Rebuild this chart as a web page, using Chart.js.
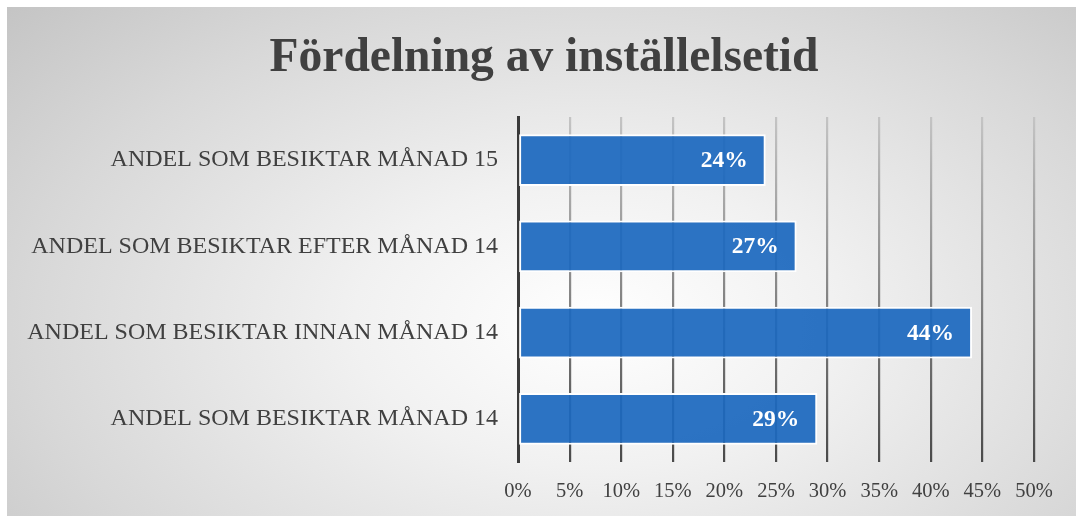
<!DOCTYPE html>
<html>
<head>
<meta charset="utf-8">
<script src="https://cdn.jsdelivr.net/npm/chart.js@4"></script>
<style>
  html, body { margin: 0; padding: 0; background: #fff; }
  #wrap {
    position: absolute; left: 7px; top: 7px; width: 1069px; height: 509px;
    background: radial-gradient(ellipse 75% 95% at 55% 62%, #ffffff 0%, #f1f1f1 30%, #d8d8d8 70%, #c3c3c3 100%);
  }
</style>
</head>
<body>
<div id="wrap"><canvas id="chart"></canvas></div>
<script>
// kategorier uppifrån och ned
var kategorier = [
  'ANDEL SOM BESIKTAR MÅNAD 15',
  'ANDEL SOM BESIKTAR EFTER MÅNAD 14',
  'ANDEL SOM BESIKTAR INNAN MÅNAD 14',
  'ANDEL SOM BESIKTAR MÅNAD 14'
];
var andelar = [24, 27, 44, 29];
var axelMax = 50;
var axelSteg = 5;
var rubrik = 'Fördelning av inställelsetid';

var serif = "'Liberation Serif', 'Times New Roman', serif";

// rubriken ritas själv så att den hamnar mitt i hela bilden
var rubrikPlugin = {
  id: 'rubrik',
  afterDraw: function (chart) {
    var ctx = chart.ctx;
    ctx.save();
    ctx.fillStyle = '#404040';
    ctx.font = 'bold 47.5px ' + serif;
    ctx.textAlign = 'center';
    ctx.textBaseline = 'middle';
    ctx.fillText(rubrik, 537, 52);
    ctx.restore();
  }
};

// skriver procentsatsen inne i stapelns ände
var etiketter = {
  id: 'etiketter',
  afterDatasetsDraw: function (chart) {
    var ctx = chart.ctx;
    var meta = chart.getDatasetMeta(0);
    ctx.save();
    ctx.fillStyle = '#ffffff';
    ctx.font = 'bold 23.5px ' + serif;
    ctx.textAlign = 'right';
    ctx.textBaseline = 'middle';
    meta.data.forEach(function (bar, i) {
      ctx.fillText(andelar[i] + '%', bar.x - 18, bar.y + 1);
    });
    ctx.restore();
  }
};

function gridFarg(context) {
  var chart = context.chart;
  var a = chart.chartArea;
  if (!a) return '#888';
  var g = chart.ctx.createLinearGradient(0, a.top, 0, a.bottom);
  g.addColorStop(0, '#c4c4c4');
  g.addColorStop(1, '#4a4a4a');
  return g;
}

var ctx = document.getElementById('chart').getContext('2d');
new Chart(ctx, {
  type: 'bar',
  data: {
    labels: kategorier,
    datasets: [{
      data: andelar,
      backgroundColor: 'rgba(28, 104, 190, 0.93)',
      borderColor: '#ffffff',
      borderWidth: 2,
      borderSkipped: false,
      barPercentage: 0.6,
      categoryPercentage: 1
    }]
  },
  options: {
    indexAxis: 'y',
    responsive: true,
    maintainAspectRatio: false,
    animation: false,
    layout: { padding: { left: 0, right: 42, top: 110, bottom: 0 } },
    plugins: {
      legend: { display: false },
      tooltip: { enabled: false },
      title: { display: false }
    },
    scales: {
      x: {
        min: 0,
        max: axelMax,
        afterFit: function (scale) { scale.height = 54; },
        ticks: {
          stepSize: axelSteg,
          color: '#404040',
          font: { family: serif, size: 20.5 },
          padding: 17,
          callback: function (v) { return v + '%'; }
        },
        grid: {
          color: gridFarg,
          lineWidth: 2.2,
          drawTicks: false
        },
        border: { display: false }
      },
      y: {
        afterFit: function (scale) { scale.width = 511; },
        ticks: {
          color: '#404040',
          font: { family: serif, size: 24 },
          padding: 20
        },
        grid: { display: false, drawTicks: false },
        border: { display: true, color: '#3a3a3a', width: 3 }
      }
    }
  },
  plugins: [etiketter, rubrikPlugin]
});
</script>
</body>
</html>
